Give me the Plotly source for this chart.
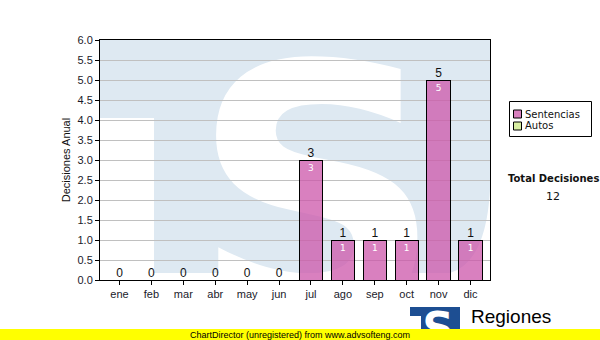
import plotly.graph_objects as go

months = ["ene", "feb", "mar", "abr", "may", "jun", "jul", "ago", "sep", "oct", "nov", "dic"]
sentencias = [0, 0, 0, 0, 0, 0, 3, 1, 1, 1, 5, 1]
autos = [0, 0, 0, 0, 0, 0, 0, 0, 0, 0, 0, 0]
series_names = ["Sentencias", "Autos"]
series_colors = ["rgba(204,85,170,0.75)", "#d8eea2"]
totals = [s + a for s, a in zip(sentencias, autos)]
total_decisiones = sum(totals)
y_ticks = [i * 0.5 for i in range(13)]

W, H = 600, 340
L, R, T, B = 100, 490, 40, 280

def px(X):
    return (X - L) / (R - L)

def py(Y):
    return (B - Y) / (B - T)

AX_FONT = dict(family="Liberation Sans, Arial, sans-serif", size=11, color="#1a1a2a")
BLUE_WM = "#dee9f2"

fig = go.Figure()

fig.add_trace(go.Bar(
    x=months, y=sentencias, name=series_names[0],
    marker=dict(color=series_colors[0], line=dict(color="black", width=1)),
    width=0.73,
    text=[str(v) if v > 0 else "" for v in sentencias],
    textposition="inside", insidetextanchor="end",
    textfont=dict(family="DejaVu Sans, sans-serif", size=9, color="white"),
    hoverinfo="skip", showlegend=False,
))
fig.add_trace(go.Bar(
    x=months, y=autos, name=series_names[1],
    marker=dict(color=series_colors[1], line=dict(color="black", width=1)),
    width=0.73, hoverinfo="skip", showlegend=False,
))
fig.add_trace(go.Scatter(
    x=months, y=totals, mode="text", text=[str(v) for v in totals],
    textposition="top center",
    textfont=dict(family="Liberation Sans, Arial, sans-serif", size=12, color="#111111"),
    showlegend=False, hoverinfo="skip",
))

# watermark (TS logo) in the plot background
wm_path = (
    f"M {px(100)} {py(40)} L {px(490)} {py(40)} L {px(490)} {py(190)} "
    f"Q {px(486)} {py(262)} {px(450)} {py(273)} "
    f"L {px(154)} {py(273)} L {px(154)} {py(118)} L {px(100)} {py(118)} Z"
)
shapes = [
    dict(type="path", xref="paper", yref="paper", path=wm_path,
         fillcolor=BLUE_WM, line=dict(width=0), layer="below"),
    dict(type="rect", xref="paper", yref="paper",
         x0=px(199), x1=px(435), y0=py(295), y1=py(45),
         fillcolor="rgba(0,0,0,0)", line=dict(width=0), layer="below",
         label=dict(text="S", textposition="middle center",
                    font=dict(family="DejaVu Sans, sans-serif", size=350, color="white", weight="bold"))),
]

# legend drawn as a box
shapes.append(dict(type="rect", xref="paper", yref="paper", layer="above",
                   x0=px(509.5), x1=px(591.5), y0=py(136.5), y1=py(101.5),
                   fillcolor="white", line=dict(color="black", width=1)))
annotations = []
for i, (nm, col) in enumerate(zip(series_names, series_colors)):
    yc = 114 + 12 * i
    shapes.append(dict(type="rect", xref="paper", yref="paper", layer="above",
                       x0=px(513.5), x1=px(521.5), y0=py(yc + 4), y1=py(yc - 4),
                       fillcolor=col, line=dict(color="black", width=1)))
    annotations.append(dict(x=px(523), y=py(yc), xref="paper", yref="paper",
                            xanchor="left", yanchor="middle",
                            text=nm, showarrow=False,
                            font=dict(family="DejaVu Sans, sans-serif", size=10, color="#111")))

# bottom logo
shapes += [
    dict(type="rect", xref="paper", yref="paper", layer="above",
         x0=px(410), x1=px(460), y0=py(329), y1=py(307),
         fillcolor="#1d4e92", line=dict(width=0)),
    dict(type="rect", xref="paper", yref="paper", layer="above",
         x0=px(410), x1=px(421), y0=py(329), y1=py(316),
         fillcolor="white", line=dict(width=0)),
    dict(type="rect", xref="paper", yref="paper", layer="above",
         x0=px(418), x1=px(458), y0=py(345), y1=py(305),
         fillcolor="rgba(0,0,0,0)", line=dict(width=0),
         label=dict(text="S", textposition="middle center",
                    font=dict(family="DejaVu Sans, sans-serif", size=44, color="white", weight="bold"))),
    # yellow footer band (drawn after the logo so it covers it)
    dict(type="rect", xref="paper", yref="paper", layer="above",
         x0=px(-10), x1=px(610), y0=py(345), y1=py(329),
         fillcolor="#ffff00", line=dict(width=0)),
]

annotations += [
    dict(x=px(553), y=py(178), xref="paper", yref="paper", xanchor="center", yanchor="middle",
         text="<b>Total Decisiones</b>",
         showarrow=False, font=dict(family="DejaVu Sans, sans-serif", size=10, color="#111")),
    dict(x=px(553), y=py(196), xref="paper", yref="paper", xanchor="center", yanchor="middle",
         text=str(total_decisiones),
         showarrow=False, font=dict(family="DejaVu Sans, sans-serif", size=11, color="#111")),
    dict(x=px(469), y=py(316), xref="paper", yref="paper", xanchor="left", yanchor="middle",
         text="Regiones",
         showarrow=False, font=dict(family="Liberation Sans, Arial, sans-serif", size=19, color="black")),
    dict(x=px(300), y=py(334.5), xref="paper", yref="paper", xanchor="center", yanchor="middle",
         text="ChartDirector (unregistered) from www.advsofteng.com",
         showarrow=False, font=dict(family="Liberation Sans, Arial, sans-serif", size=9, color="black")),
]

fig.update_layout(
    width=W, height=H,
    margin=dict(l=L, r=W - R, t=T, b=H - B, pad=0, autoexpand=False),
    paper_bgcolor="white", plot_bgcolor="white",
    barmode="stack", bargap=0.27,
    showlegend=False,
    shapes=shapes, annotations=annotations,
    xaxis=dict(showline=True, linecolor="black", linewidth=1, mirror=True,
               ticks="outside", ticklen=4, tickcolor="black", tickfont=AX_FONT,
               showgrid=False),
    yaxis=dict(range=[0, 6], tickvals=y_ticks, ticktext=[f"{v:.1f}" for v in y_ticks],
               showline=True, linecolor="black", linewidth=1, mirror=True,
               ticks="outside", ticklen=4, tickcolor="black", tickfont=AX_FONT,
               showgrid=True, gridcolor="#c0c0c0", gridwidth=1, zeroline=False,
               title=dict(text="Decisiones Anual", standoff=4,
                          font=dict(family="Liberation Sans, Arial, sans-serif", size=11, color="#111"))),
)

fig.write_html("out.html")
